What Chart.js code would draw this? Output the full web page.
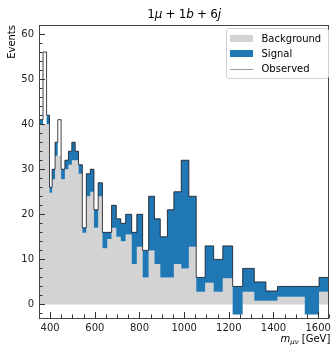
<!DOCTYPE html>
<html>
<head>
<meta charset="utf-8">
<script src="https://cdn.jsdelivr.net/npm/chart.js@4.4.1/dist/chart.umd.min.js"></script>
<style>
  html, body { margin: 0; padding: 0; background: #fff; }
  #wrap { width: 335px; height: 345px; position: relative; }
</style>
</head>
<body>
<div id="wrap"><canvas id="histChart"></canvas></div>
<script>
// bin edges in GeV (bins widen with mass)
const binEdges = [350, 368, 384, 397, 409, 422, 434, 449, 466, 482, 497, 512, 527, 544, 562, 580,
  596, 615, 634, 656, 675, 696, 716, 738, 765, 788, 814, 841, 867, 893, 925, 954, 987, 1021,
  1054, 1094, 1132, 1173, 1217, 1262, 1314, 1366, 1418, 1478, 1540, 1604, 1650];

// one value per bin
const background = [40, 40, 40, 24.8, 27.8, 33, 33, 27.8, 30, 31, 32, 32, 29, 15.9, 24, 25,
  17, 24, 12.5, 14.5, 17, 15, 14, 15.5, 9, 12.8, 6, 12, 9, 6, 6, 9, 8, 12.8,
  2.8, 4.8, 2.8, 5.8, 0, 2.8, 0.8, 0.8, 1.7, 1.7, 0, 2.8];
const signalLow = [40, 40, 40, 24.8, 27.8, 33, 33, 27.8, 30, 31, 32, 32, 29, 15.9, 24, 25,
  17, 24, 12.5, 14.5, 17, 15, 14, 15.5, 9, 12.8, 6, 12, 9, 6, 6, 9, 8, 12.8,
  2.8, 4.8, 2.8, 5.8, -2.2, 2.8, 0.8, 0.8, 1.7, 1.7, -2.2, 2.8];
const signalHigh = [41, 40, 42, 26, 30, 36, 33, 30, 32, 34, 36, 34, 31, 17, 29, 30,
  21, 27, 16, 16, 22, 19, 18, 20, 16, 20, 12, 24, 19, 15, 21, 25, 32, 24,
  6, 13, 10, 13, 4, 8, 5, 3, 4, 4, 4, 6];
const observed = [41, 56, 42, 26, 30, 36, 41, 30, 32, 34, 36, 34, 31, 17, 29, 30,
  21, 27, 16, 16, 22, 19, 18, 20, 16, 20, 12, 24, 19, 15, 21, 25, 32, 24,
  6, 13, 10, 13, 4, 8, 5, 3, 4, 4, 4, 6];

const yTicks = [0, 10, 20, 30, 40, 50, 60];
const xTicks = [400, 600, 800, 1000, 1200, 1400, 1600];

const GRAY = '#d3d3d3';
const BLUE = '#1f77b4';
const OBS = 'rgba(20, 20, 30, 0.8)';

// histogram -> step points (value of a bin held until the next edge)
function toSteps(values) {
  const pts = values.map((v, i) => ({ x: binEdges[i], y: v }));
  pts.push({ x: binEdges[binEdges.length - 1], y: values[values.length - 1] });
  return pts;
}

// title with math-style italics
const titlePlugin = {
  id: 'mathTitle',
  afterDraw(chart) {
    const ctx = chart.ctx;
    const a = chart.chartArea;
    const parts = [
      ['1', ''], ['μ', 'italic '], [' ', null], ['+', ''], [' ', null],
      ['1', ''], ['b', 'italic '], [' ', null], ['+', ''], [' ', null],
      ['6', ''], ['j', 'italic ']
    ];
    const gap = 3.1;
    ctx.save();
    ctx.fillStyle = '#000';
    ctx.textBaseline = 'alphabetic';
    let total = 0;
    parts.forEach(([t, st]) => {
      if (st === null) { total += gap; return; }
      ctx.font = st + '12px "DejaVu Sans"';
      total += ctx.measureText(t).width;
    });
    let x = (a.left + a.right) / 2 - total / 2;
    parts.forEach(([t, st]) => {
      if (st === null) { x += gap; return; }
      ctx.font = st + '12px "DejaVu Sans"';
      ctx.fillText(t, x, 18.3);
      x += ctx.measureText(t).width;
    });
    ctx.restore();
  }
};

// x label with subscript, right aligned under the axis
const xLabelPlugin = {
  id: 'xLabel',
  afterDraw(chart) {
    const ctx = chart.ctx;
    const a = chart.chartArea;
    ctx.save();
    ctx.fillStyle = '#000';
    ctx.textBaseline = 'alphabetic';
    const main = 'italic 10px "DejaVu Sans"';
    const sub = 'italic 7px "DejaVu Sans"';
    const tail = '10px "DejaVu Sans"';
    ctx.font = main; const wm = ctx.measureText('m').width;
    ctx.font = sub; const ws = ctx.measureText('μν').width;
    ctx.font = tail; const wt = ctx.measureText(' [GeV]').width;
    let x = a.right + 1 - (wm + ws + wt);
    const base = 342;
    ctx.font = main; ctx.fillText('m', x, base); x += wm;
    ctx.font = sub; ctx.fillText('μν', x, base + 2); x += ws;
    ctx.font = tail; ctx.fillText(' [GeV]', x, base);
    ctx.restore();
  }
};

// frame and inward ticks
const framePlugin = {
  id: 'frameTicks',
  afterDatasetsDraw(chart) {
    const { ctx, chartArea: a, scales: { x, y } } = chart;
    ctx.save();
    ctx.strokeStyle = '#333';
    ctx.lineWidth = 1;
    ctx.beginPath();
    for (let v = -2; v <= 62; v += 2) {
      const py = Math.round(y.getPixelForValue(v)) + 0.5;
      const len = v % 10 === 0 ? 6 : 3.5;
      ctx.moveTo(a.left, py);
      ctx.lineTo(a.left + len, py);
    }
    for (let v = 350; v <= 1650; v += 50) {
      const px = Math.round(x.getPixelForValue(v)) + 0.5;
      const len = v % 200 === 0 ? 6 : 3.5;
      ctx.moveTo(px, a.bottom);
      ctx.lineTo(px, a.bottom - len);
    }
    ctx.stroke();
    ctx.strokeStyle = '#444';
    ctx.strokeRect(Math.round(a.left) + 0.5, Math.round(a.top) + 0.5,
      Math.round(a.right - a.left) - 1, Math.round(a.bottom - a.top));
    ctx.restore();
  }
};

// legend box in the upper right
const legendPlugin = {
  id: 'boxLegend',
  afterDraw(chart) {
    const ctx = chart.ctx;
    const items = chart.data.datasets.filter(d => d.legendKind)
      .sort((p, q) => p.legendRank - q.legendRank);
    const bx = 226.5, by = 28.5, bw = 102, bh = 50, r = 2.5;
    ctx.save();
    ctx.fillStyle = 'rgba(255,255,255,0.8)';
    ctx.strokeStyle = '#d0d0d0';
    ctx.lineWidth = 1;
    ctx.beginPath();
    ctx.moveTo(bx + r, by);
    ctx.arcTo(bx + bw, by, bx + bw, by + bh, r);
    ctx.arcTo(bx + bw, by + bh, bx, by + bh, r);
    ctx.arcTo(bx, by + bh, bx, by, r);
    ctx.arcTo(bx, by, bx + bw, by, r);
    ctx.closePath();
    ctx.fill();
    ctx.stroke();
    ctx.font = '10px "DejaVu Sans"';
    ctx.textBaseline = 'middle';
    items.forEach((d, i) => {
      const cy = 38.5 + i * 15;
      if (d.legendKind === 'patch') {
        ctx.fillStyle = d.legendColor;
        ctx.fillRect(230, cy - 3.5, 23, 7);
      } else {
        ctx.strokeStyle = '#999';
        ctx.lineWidth = 1;
        ctx.beginPath();
        ctx.moveTo(230, Math.round(cy) + 0.5);
        ctx.lineTo(253, Math.round(cy) + 0.5);
        ctx.stroke();
      }
      ctx.fillStyle = '#000';
      ctx.fillText(d.label, 261.5, cy + 0.5);
    });
    ctx.restore();
  }
};

const ctx = document.getElementById('histChart').getContext('2d');
new Chart(ctx, {
  type: 'line',
  data: {
    datasets: [
      {
        label: 'Observed',
        data: toSteps(observed),
        stepped: true,
        borderColor: OBS,
        borderWidth: 1,
        pointRadius: 0,
        fill: false,
        legendKind: 'line',
        legendRank: 3
      },
      {
        label: 'Signal',
        data: toSteps(signalHigh),
        stepped: true,
        borderWidth: 0,
        borderColor: 'rgba(0,0,0,0)',
        backgroundColor: BLUE,
        pointRadius: 0,
        fill: '+1',
        legendKind: 'patch',
        legendColor: BLUE,
        legendRank: 2
      },
      {
        label: 'signal low',
        data: toSteps(signalLow),
        stepped: true,
        borderWidth: 0,
        borderColor: 'rgba(0,0,0,0)',
        pointRadius: 0,
        fill: false
      },
      {
        label: 'Background',
        data: toSteps(background),
        stepped: true,
        borderWidth: 0,
        borderColor: 'rgba(0,0,0,0)',
        backgroundColor: GRAY,
        pointRadius: 0,
        fill: 'origin',
        legendKind: 'patch',
        legendColor: GRAY,
        legendRank: 1
      }
    ]
  },
  options: {
    responsive: true,
    maintainAspectRatio: false,
    animation: false,
    layout: { padding: { top: 25, right: 3, left: 0, bottom: 0 } },
    plugins: {
      legend: { display: false },
      tooltip: { enabled: false },
      title: { display: false }
    },
    scales: {
      x: {
        type: 'linear',
        min: 350,
        max: 1650,
        grid: { display: false, drawTicks: false },
        border: { display: false },
        afterFit(scale) { scale.height = 27; },
        afterBuildTicks(scale) { scale.ticks = xTicks.map(v => ({ value: v })); },
        ticks: {
          maxRotation: 0,
          padding: 4,
          color: '#222',
          font: { family: 'DejaVu Sans', size: 10 },
          callback: v => String(v)
        }
      },
      y: {
        type: 'linear',
        min: -3,
        max: 62,
        grid: { display: false, drawTicks: false },
        border: { display: false },
        afterFit(scale) { scale.width = 39; },
        afterBuildTicks(scale) { scale.ticks = yTicks.map(v => ({ value: v })); },
        ticks: {
          padding: 5,
          color: '#222',
          font: { family: 'DejaVu Sans', size: 10 },
          callback: v => String(v)
        },
        title: {
          display: true,
          text: 'Events',
          align: 'end',
          color: '#000',
          padding: { top: 6, bottom: 0 },
          font: { family: 'DejaVu Sans', size: 10 }
        }
      }
    }
  },
  plugins: [titlePlugin, xLabelPlugin, framePlugin, legendPlugin]
});
</script>
</body>
</html>
